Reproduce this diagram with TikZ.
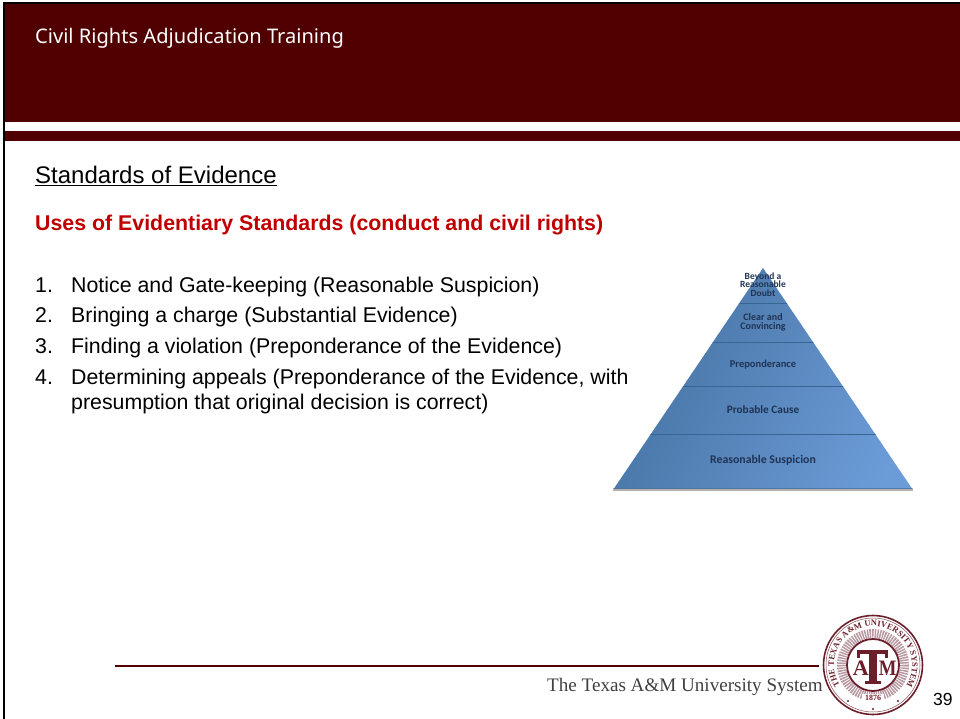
\documentclass[tikz,border=0pt]{standalone}
\usepackage{fontspec}
\setmainfont{Liberation Sans}
\newfontfamily\titlefont{Noto Sans}
\newfontfamily\pyrfont{Carlito}
\newfontfamily\serifface{Liberation Serif}
\definecolor{maroonbar}{HTML}{500000}
\definecolor{subred}{HTML}{C00000}
\definecolor{pyrtext}{HTML}{1F3354}
\definecolor{pyrline}{HTML}{3A6494}
\definecolor{pyrleft}{HTML}{44709F}
\definecolor{pyrright}{HTML}{6C9CD8}
\definecolor{sealcol}{HTML}{6B1F2B}
\definecolor{wreath}{HTML}{B99AA3}
\tikzset{
  bodytext/.style={anchor=base west,inner sep=0pt,font=\fontsize{21.33}{26}\selectfont,text=black},
  pyrlabel/.style={align=center,inner sep=0pt,text=pyrtext,font=\pyrfont\bfseries\fontsize{11.3}{10.5}\selectfont},
  pyrdiv/.style={draw=pyrline,line width=1pt},
  seallet/.style={inner sep=0pt,text=sealcol,font=\serifface\bfseries\fontsize{22}{22}\selectfont},
  sealring/.style={inner sep=0pt,text=sealcol,font=\serifface\bfseries\fontsize{8.4}{9}\selectfont}
}
\begin{document}
\begin{tikzpicture}[x=1pt,y=-1pt]
\useasboundingbox (0,0) rectangle (960,719);
\fill[white] (0,0) rectangle (960,719);
% header
\fill[black] (3.3,2) rectangle (960,4.5);
\fill[black] (3.3,2) rectangle (5.4,719);
\fill[maroonbar] (5.4,4.5) rectangle (960,122.5);
\fill[maroonbar] (5.4,131) rectangle (960,141);
\node[anchor=base west,inner sep=0pt,text=white,font=\titlefont\fontsize{20.1}{24}\selectfont] (title) at (35,44) {Civil Rights Adjudication Training};
% headings
\node[bodytext,font=\fontsize{24}{28}\selectfont] (std) at (35,184) {\underline{Standards of Evidence}};
\node[bodytext,text=subred,font=\bfseries\fontsize{21.34}{26}\selectfont] (uses) at (35,230) {Uses of Evidentiary Standards (conduct and civil rights)};
% list
\node[bodytext] (n1) at (35,292) {1.};
\node[bodytext] (t1) at (71,292) {Notice and Gate-keeping (Reasonable Suspicion)};
\node[bodytext] (n2) at (35,322) {2.};
\node[bodytext] (t2) at (71,322) {Bringing a charge (Substantial Evidence)};
\node[bodytext] (n3) at (35,353) {3.};
\node[bodytext] (t3) at (71,353) {Finding a violation (Preponderance of the Evidence)};
\node[bodytext] (n4) at (35,384) {4.};
\node[bodytext] (t4) at (71,384) {Determining appeals (Preponderance of the Evidence, with};
\node[bodytext] (t5) at (71,409) {presumption that original decision is correct)};
% pyramid
\fill[black!30] (613,488) rectangle (913,490.5);
\begin{scope}
\clip (763,268) -- (912,488.5) -- (614,488.5) -- cycle;
\shade[left color=pyrleft,right color=pyrright,shading angle=65] (600,250) rectangle (930,500);
\draw[pyrdiv] (614,303) -- (912,303);
\draw[pyrdiv] (614,342.5) -- (912,342.5);
\draw[pyrdiv] (614,386.5) -- (912,386.5);
\draw[pyrdiv] (614,434.5) -- (912,434.5);
\draw[pyrdiv] (614,488) -- (912,488);
\end{scope}
\node[pyrlabel,font=\pyrfont\bfseries\fontsize{9.5}{8.7}\selectfont] (p1) at (763,284.5) {Beyond a\\Reasonable\\Doubt};
\node[pyrlabel,font=\pyrfont\bfseries\fontsize{10}{8.7}\selectfont] (p2) at (763,322.5) {Clear and\\Convincing};
\node[pyrlabel,font=\pyrfont\bfseries\fontsize{10.5}{10}\selectfont] (p3) at (763,364.5) {Preponderance};
\node[pyrlabel] (p4) at (763,409.5) {Probable Cause};
\node[pyrlabel,font=\pyrfont\bfseries\fontsize{11.8}{10.5}\selectfont] (p5) at (763,460.5) {Reasonable Suspicion};
% footer
\draw[maroonbar,line width=2.6pt] (115,666) -- (546,666);
\draw[maroonbar,line width=1.7pt] (546,665.8) -- (819,665.8);
\node[anchor=base west,inner sep=0pt,text=black!75,font=\serifface\fontsize{19.1}{24}\selectfont] (sys) at (547,691) {The Texas A\&M University System};
\node[anchor=base west,inner sep=0pt,font=\fontsize{17.5}{20}\selectfont] (num) at (933,705) {39};
% seal
\fill[white] (873,665) circle (50.5);
\draw[sealcol,line width=1.6pt] (873,665) circle (49.5);
\draw[sealcol!80,line width=0.5pt] (873,665) circle (47);
\draw[wreath,line width=9pt,dash pattern=on 1.5pt off 1pt] (873,665) circle (31.5);
\draw[sealcol,line width=1.8pt] (873,665) circle (26);
\gdef\cumw{0}
\foreach \ch/\w [count=\i] in {T/.667,H/.778,E/.667,{}/.25,T/.667,E/.667,X/.722,A/.722,S/.556,{}/.25,A/.722,{\&}/.833,M/.944,{}/.25,U/.722,N/.722,I/.389,V/.722,E/.667,R/.722,S/.556,I/.389,T/.667,Y/.722,{}/.25,S/.556,Y/.722,S/.556,T/.667,E/.667,M/.944}{
  \pgfmathsetmacro{\ang}{-122+(\cumw+\w/2)*12.62}
  \pgfmathsetmacro{\newcum}{\cumw+\w}
  \global\let\cumw\newcum
  \node[sealring,rotate=-\ang] (ring\i) at ({873+41.8*sin(\ang)},{665-41.8*cos(\ang)}) {\ch};
}
\fill[white] (862,693.5) rectangle (884,702.5);
\node[seallet,font=\serifface\bfseries\fontsize{8}{8}\selectfont] (yr) at (873,698) {1876};
\fill[sealcol] (873,709) circle (1.1);
\fill[sealcol] (848,701) circle (1.1);
\fill[sealcol] (898,701) circle (1.1);
\node[seallet] (la) at (860.8,668) {A};
\node[seallet,xscale=0.85] (lm) at (887.6,668) {M};
\fill[sealcol] (857,649.5) rectangle (888,653.8);
\fill[sealcol] (857,649.5) rectangle (860,657.7);
\fill[sealcol] (885,649.5) rectangle (888,657.7);
\fill[sealcol] (868.5,649.5) rectangle (877,684);
\fill[sealcol] (865,680.5) rectangle (880.5,684);
\end{tikzpicture}
\end{document}
